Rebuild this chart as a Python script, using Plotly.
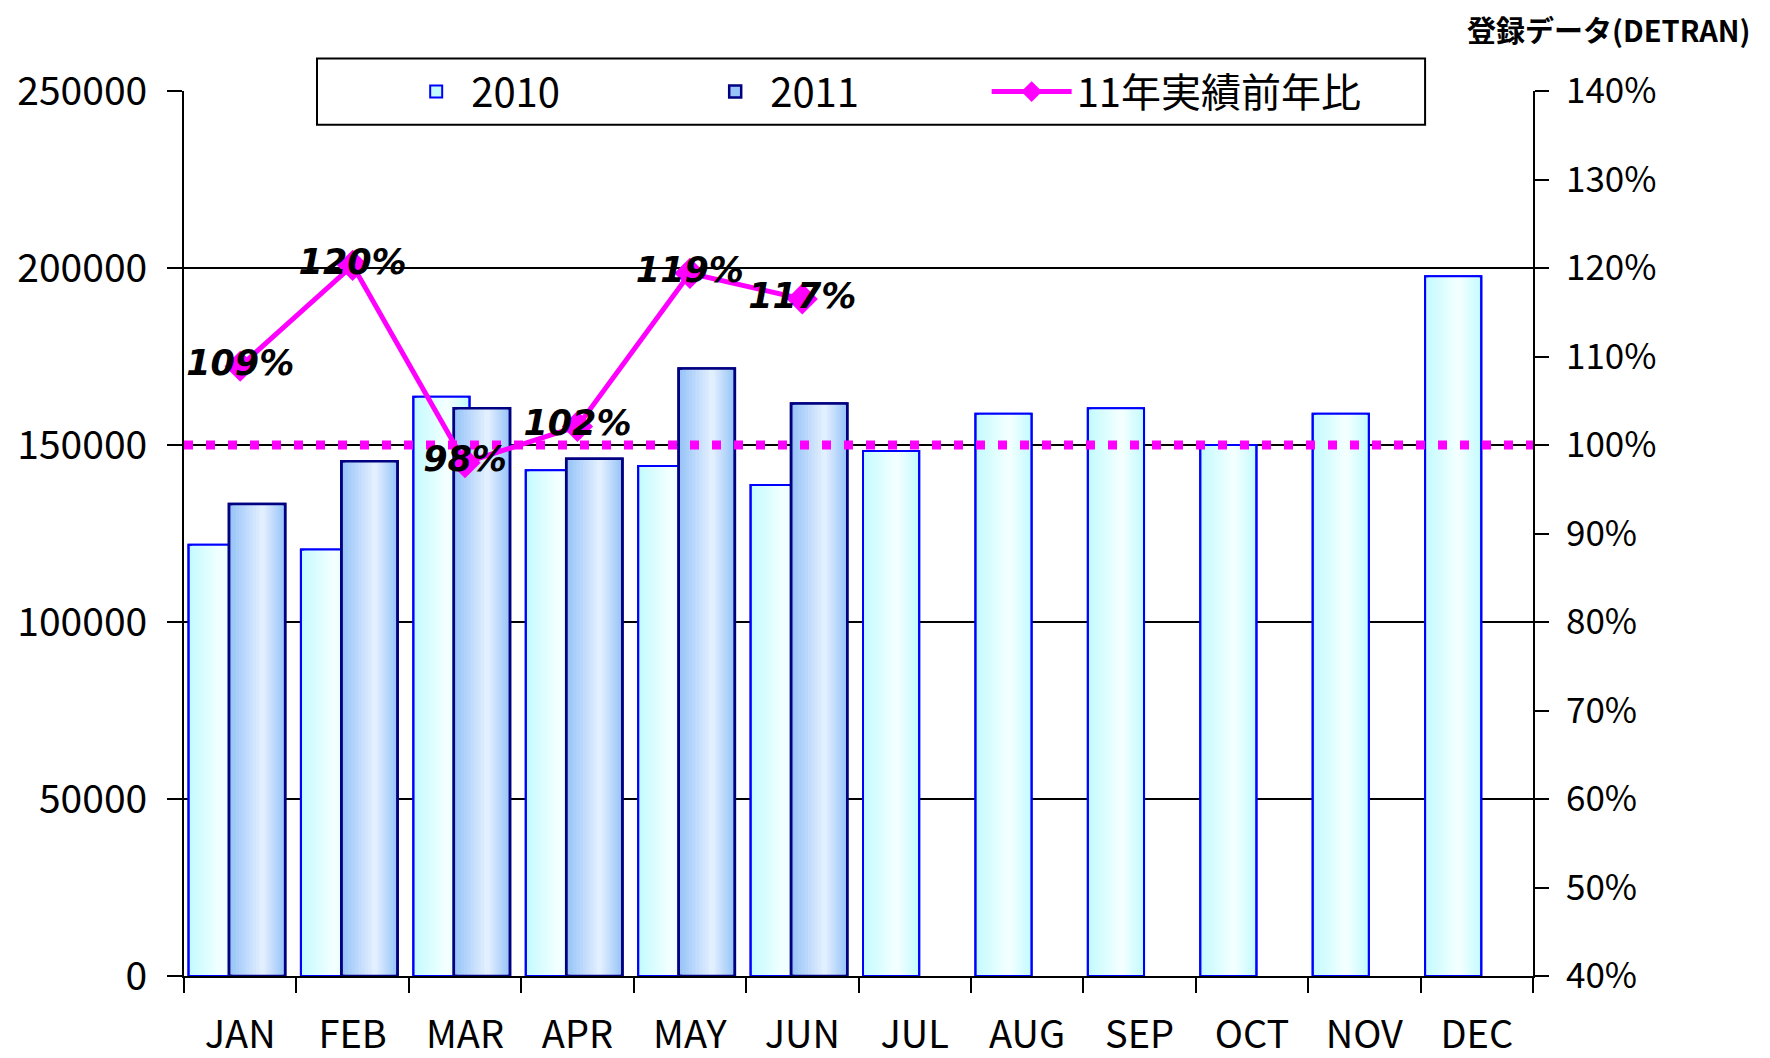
import plotly.graph_objects as go

months = ['JAN', 'FEB', 'MAR', 'APR', 'MAY', 'JUN', 'JUL', 'AUG', 'SEP', 'OCT', 'NOV', 'DEC']
sales_2010 = [121800, 120500, 163600, 142900, 144100, 138700, 148300, 158800, 160400, 150000, 158800, 197700]
sales_2011 = [133300, 145400, 160400, 146100, 171600, 161700]
ratio_2011 = [108.9, 120.3, 98.0, 102.1, 119.4, 116.5]
ratio_labels = ['109%', '120%', '98%', '102%', '119%', '117%']
baseline_pct = 100

x_all = list(range(len(months)))
x_2011 = x_all[:len(sales_2011)]
bounds = [i - 0.5 for i in range(len(months) + 1)]


def mix(c1, c2, t):
    a = [int(c1[i:i + 2], 16) for i in (1, 3, 5)]
    b = [int(c2[i:i + 2], 16) for i in (1, 3, 5)]
    return '#%02x%02x%02x' % tuple(round(a[k] + (b[k] - a[k]) * t) for k in range(3))


def add_gradient_bars(fig, x, y, name, offset, width, dark, light, edge, edge_w, steps=10, peak=0.6):
    # fake a horizontal gradient with nested bars, lightest at `peak`
    for i in range(steps):
        f = 1 - i / steps
        fig.add_bar(x=x, y=y, name=name, legendgroup=name, showlegend=(i == 0),
                    offset=offset + width * peak * (1 - f), width=width * f,
                    marker_color=mix(dark, light, i / (steps - 1)),
                    marker_line_color=edge, marker_line_width=edge_w if i == 0 else 0,
                    hoverinfo='skip')
    # outline on top of the gradient
    fig.add_bar(x=x, y=y, legendgroup=name, showlegend=False, offset=offset, width=width,
                marker_color='rgba(0,0,0,0)', marker_line_color=edge, marker_line_width=edge_w,
                hoverinfo='skip')


fig = go.Figure()
add_gradient_bars(fig, x_all, sales_2010, '2010', -0.46, 0.5, '#c4fbff', '#f3ffff', '#0000ff', 2)
add_gradient_bars(fig, x_2011, sales_2011, '2011', -0.10, 0.5, '#98c4f8', '#e2efff', '#000080', 2.5)

fig.add_scatter(x=[bounds[0], bounds[-1]], y=[baseline_pct] * 2, yaxis='y2', mode='lines',
                line=dict(color='#ff00ff', width=9, dash='9px,13px'), showlegend=False, hoverinfo='skip')
fig.add_scatter(x=x_2011, y=ratio_2011, yaxis='y2', mode='lines+markers+text', name='11年実績前年比',
                legend='legend2',
                line=dict(color='#ff00ff', width=5),
                marker=dict(symbol='diamond', size=24, color='#ff00ff'),
                text=ratio_labels, textposition='middle center',
                textfont=dict(family='DejaVu Sans', size=35, color='black', weight='bold', style='italic'),
                hoverinfo='skip')

# legend frame
fig.add_shape(type='rect', xref='paper', yref='paper', x0=0.0986, x1=0.920, y0=0.962, y1=1.0366,
              line=dict(color='black', width=2), fillcolor='white', layer='above')

fig.add_annotation(text='<b>登録データ(DETRAN)</b>', xref='paper', yref='paper', x=1.1623, y=1.07,
                   xanchor='right', yanchor='middle', showarrow=False,
                   font=dict(family='Noto Sans CJK JP', size=29, color='black'))

tick_style = dict(tickwidth=2, tickcolor='black')
legend_style = dict(orientation='h', xanchor='left', y=0.9993, yanchor='middle',
                    bgcolor='rgba(0,0,0,0)', font=dict(size=40))
# the page body adds an 8px offset, so the figure is 16px smaller and the top/left margins 8px less
fig.update_layout(
    width=1762, height=1050,
    margin=dict(l=176, r=237, t=83, b=82, autoexpand=False),
    barmode='overlay',
    plot_bgcolor='white', paper_bgcolor='white',
    font=dict(family='Noto Sans CJK JP', size=39, color='black'),
    legend=dict(x=0.161, entrywidth=224, itemwidth=60, **legend_style),
    legend2=dict(x=0.595, itemwidth=80, **legend_style),
    xaxis=dict(range=[-0.5, 11.5], tickvals=x_all, ticktext=months, ticks='',
               tickfont=dict(size=38), automargin=False,
               showline=True, linecolor='black', linewidth=2, showgrid=False, zeroline=False,
               ticklabelstandoff=24,
               minor=dict(tickvals=bounds, ticks='outside', ticklen=15, **tick_style)),
    xaxis2=dict(overlaying='x', anchor='y', range=[-0.5, 11.5], tickvals=bounds, ticks='inside',
                ticklen=15, showticklabels=False, showgrid=False, zeroline=False, showline=False,
                **tick_style),
    yaxis=dict(range=[0, 250000], dtick=50000, tickformat='d', showgrid=True, gridcolor='black',
               gridwidth=1.5, ticks='outside', ticklen=15, showline=True, linecolor='black',
               linewidth=2, zeroline=False, ticklabelstandoff=12, automargin=False, **tick_style),
    yaxis2=dict(overlaying='y', side='right', range=[40, 140], dtick=10, ticksuffix='%',
                tickfont=dict(size=35),
                ticks='outside', ticklen=14, showline=True, linecolor='black', linewidth=2,
                showgrid=False, zeroline=False, ticklabelstandoff=10, automargin=False, **tick_style),
    yaxis3=dict(overlaying='y', side='right', anchor='x', range=[40, 140], dtick=10, ticks='inside',
                ticklen=16, showticklabels=False, showgrid=False, zeroline=False, showline=False,
                **tick_style),
)

fig.write_html("out.html")
